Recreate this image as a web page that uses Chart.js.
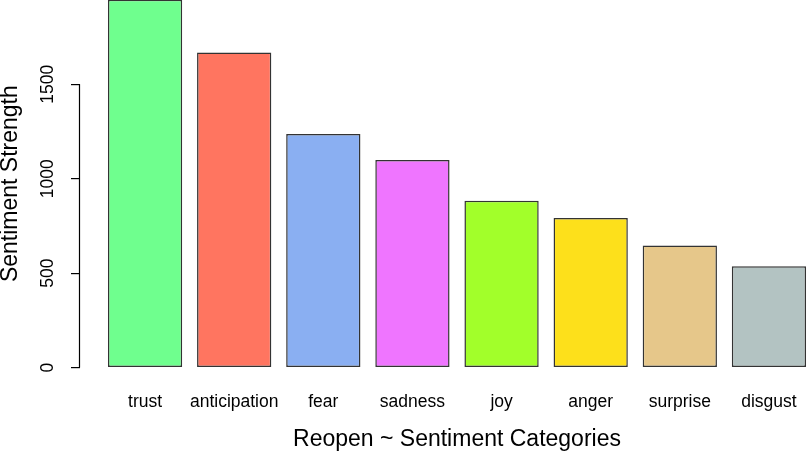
<!DOCTYPE html>
<html>
<head>
<meta charset="utf-8">
<script src="https://cdn.jsdelivr.net/npm/chart.js@4.4.0/dist/chart.umd.min.js"></script>
<style>
  html, body { margin: 0; padding: 0; background: #fff; overflow: hidden; }
  body { width: 807px; height: 452px; position: relative; }
  /* plot region of the original runs past the top and right edge */
  #wrap { position: absolute; left: 0; top: -15px; width: 840px; height: 467px; }
</style>
</head>
<body>
<div id="wrap"><canvas id="sentChart"></canvas></div>
<script>
const categories = ['trust', 'anticipation', 'fear', 'sadness', 'joy', 'anger', 'surprise', 'disgust'];
const strength = [1948, 1669, 1237, 1099, 884, 792, 647, 536];
const barColors = ['#6fff8e', '#ff7560', '#8aaff2', '#ef75ff', '#a2ff2a', '#fde01b', '#e6c78a', '#b3c3c2'];
const yTicks = [0, 500, 1000, 1500];
const xTitle = 'Reopen ~ Sentiment Categories';
const yTitle = 'Sentiment Strength';

// barplot style layout: bar width 1, space 0.2, axes extended by 4%
const barPos = categories.map((c, i) => 0.7 + 1.2 * i);
const xLo = 0.2, xHi = 1.2 * categories.length;
const xExt = (xHi - xLo) * 0.04;
const yMax = Math.max(...strength);
const yExt = yMax * 0.04;

Chart.defaults.font.family = "'Liberation Sans', Arial, sans-serif";
Chart.defaults.color = '#000';

// axis line only from first to last tick
const axisLine = {
    id: 'axisLine',
    afterDraw(chart) {
        const s = chart.scales.y;
        const ctx = chart.ctx;
        const x = Math.round(s.right) - 0.5;
        ctx.save();
        ctx.strokeStyle = '#000';
        ctx.lineWidth = 1.2;
        ctx.beginPath();
        ctx.moveTo(x, s.getPixelForValue(yTicks[0]));
        ctx.lineTo(x, s.getPixelForValue(yTicks[yTicks.length - 1]));
        ctx.stroke();
        ctx.restore();
    }
};

new Chart(document.getElementById('sentChart'), {
    type: 'bar',
    data: {
        datasets: [{
            data: strength.map((v, i) => ({ x: barPos[i], y: v })),
            backgroundColor: barColors,
            borderColor: '#333',
            borderWidth: 1.5,
            borderSkipped: false,
            categoryPercentage: 1,
            barPercentage: 1 / 1.2
        }]
    },
    options: {
        responsive: true,
        maintainAspectRatio: false,
        animation: false,
        devicePixelRatio: 1,
        layout: { padding: { left: 0, right: 6, top: 0, bottom: 0 } },
        plugins: {
            legend: { display: false },
            tooltip: { enabled: false }
        },
        scales: {
            x: {
                type: 'linear',
                offset: false,
                min: xLo - xExt,
                max: xHi + xExt,
                afterBuildTicks: s => { s.ticks = barPos.map(v => ({ value: v })); },
                afterFit: s => { s.height = 69.7; s.paddingLeft = 0; s.paddingRight = 0; },
                grid: { display: false, drawTicks: false },
                border: { display: false },
                ticks: {
                    autoSkip: false,
                    maxRotation: 0,
                    padding: 9,
                    font: { size: 17.5 },
                    callback: (v, i) => categories[i]
                },
                title: {
                    display: true,
                    text: xTitle,
                    font: { size: 23, lineHeight: 1.05 },
                    padding: 0
                }
            },
            y: {
                min: -yExt,
                max: yMax + yExt,
                afterBuildTicks: s => { s.ticks = yTicks.map(v => ({ value: v })); },
                afterFit: s => { s.width = 80; s.paddingTop = 0; s.paddingBottom = 0; },
                grid: { drawOnChartArea: false, drawTicks: true, tickLength: 9, color: '#000', lineWidth: 1.2 },
                border: { display: false },
                ticks: {
                    minRotation: 90,
                    maxRotation: 90,
                    crossAlign: 'center',
                    padding: 3,
                    font: { size: 17.5 },
                    callback: v => String(v)
                },
                title: {
                    display: true,
                    text: yTitle,
                    font: { size: 23, lineHeight: 0.92 },
                    padding: 0
                }
            }
        }
    },
    plugins: [axisLine]
});
</script>
</body>
</html>
